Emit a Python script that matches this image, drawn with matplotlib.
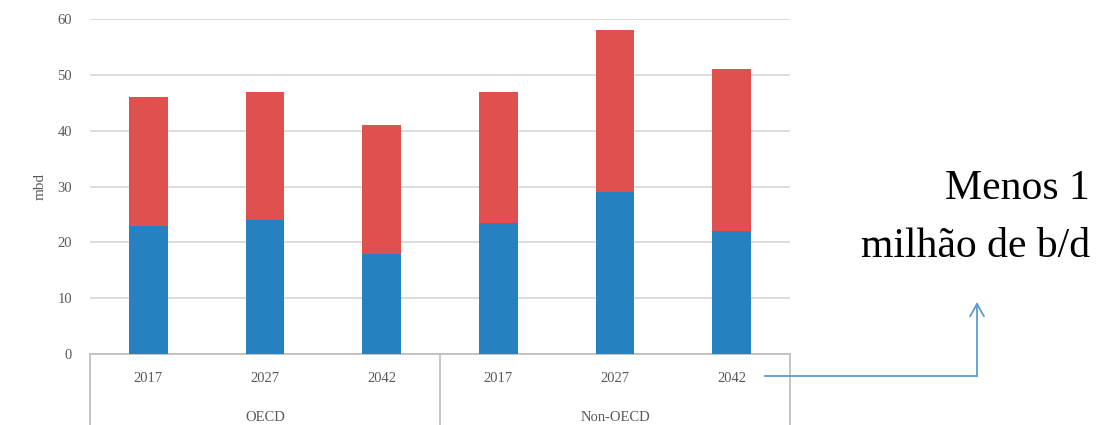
import matplotlib
matplotlib.use("Agg")
import matplotlib.pyplot as plt
from matplotlib.lines import Line2D
import matplotlib.transforms as mtransforms

# dados (mbd)
grupos = ["OECD", "Non-OECD"]
anos = ["2017", "2027", "2042", "2017", "2027", "2042"]
azul = [23, 24, 18, 23.5, 29, 22]
vermelho = [23, 23, 23, 23.5, 29, 29]

cor_azul = "#2681c0"
cor_verm = "#df514f"
cinza = "#595959"

plt.rcParams['font.family'] = ['Liberation Serif', 'DejaVu Serif']

fig = plt.figure(figsize=(11.12, 4.25), dpi=100)
ax = fig.add_axes([90/1112, 71/425, 700/1112, 335/425])

x = list(range(len(anos)))
ax.bar(x, azul, width=0.33, color=cor_azul, zorder=3)
ax.bar(x, vermelho, width=0.33, bottom=azul, color=cor_verm, zorder=3)

ax.set_xlim(-0.5, 5.5)
ax.set_ylim(0, 60)
ax.set_yticks(range(0, 61, 10))
ax.yaxis.grid(True, color="#d9d9d9", linewidth=1.3, zorder=0)
for s in ["top", "right", "left"]:
    ax.spines[s].set_visible(False)
ax.spines["bottom"].set_color("#bfbfbf")
ax.spines["bottom"].set_linewidth(1.3)
ax.tick_params(axis="y", length=0, labelsize=10.5, labelcolor=cinza, pad=13)
ax.set_xticks(x)
ax.set_xticklabels(anos)
ax.tick_params(axis="x", length=0, labelsize=10.5, labelcolor=cinza, pad=13)
ax.set_ylabel("mbd", fontsize=11, color=cinza, labelpad=8)

# separadores e rótulos de grupo
trans = mtransforms.blended_transform_factory(ax.transData, ax.transAxes)
for xv in [-0.5, 2.5, 5.5]:
    ax.add_line(Line2D([xv, xv], [0, -0.22], transform=trans, color="#bfbfbf",
                       linewidth=1.3, clip_on=False))
ax.text(1, -0.19, grupos[0], transform=trans, ha="center", va="center",
        fontsize=10.5, color=cinza)
ax.text(4, -0.19, grupos[1], transform=trans, ha="center", va="center",
        fontsize=10.5, color=cinza)

# seta e texto à direita
fig.add_artist(Line2D([765/1112, 977/1112], [49/425, 49/425],
                      transform=fig.transFigure, color="#5b9bd5", linewidth=1.3))
fig.add_artist(matplotlib.patches.FancyArrowPatch(
    (977/1112, 49/425), (977/1112, 123/425), transform=fig.transFigure,
    arrowstyle="->,head_length=9,head_width=5", color="#5b9bd5", linewidth=1.3,
    shrinkA=0, shrinkB=0))
fig.text(1090/1112, 236/425, "Menos 1", ha="right", va="center", fontsize=30)
fig.text(1090/1112, 178/425, "milhão de b/d", ha="right", va="center", fontsize=30)

fig.savefig("out.png", dpi=100)
